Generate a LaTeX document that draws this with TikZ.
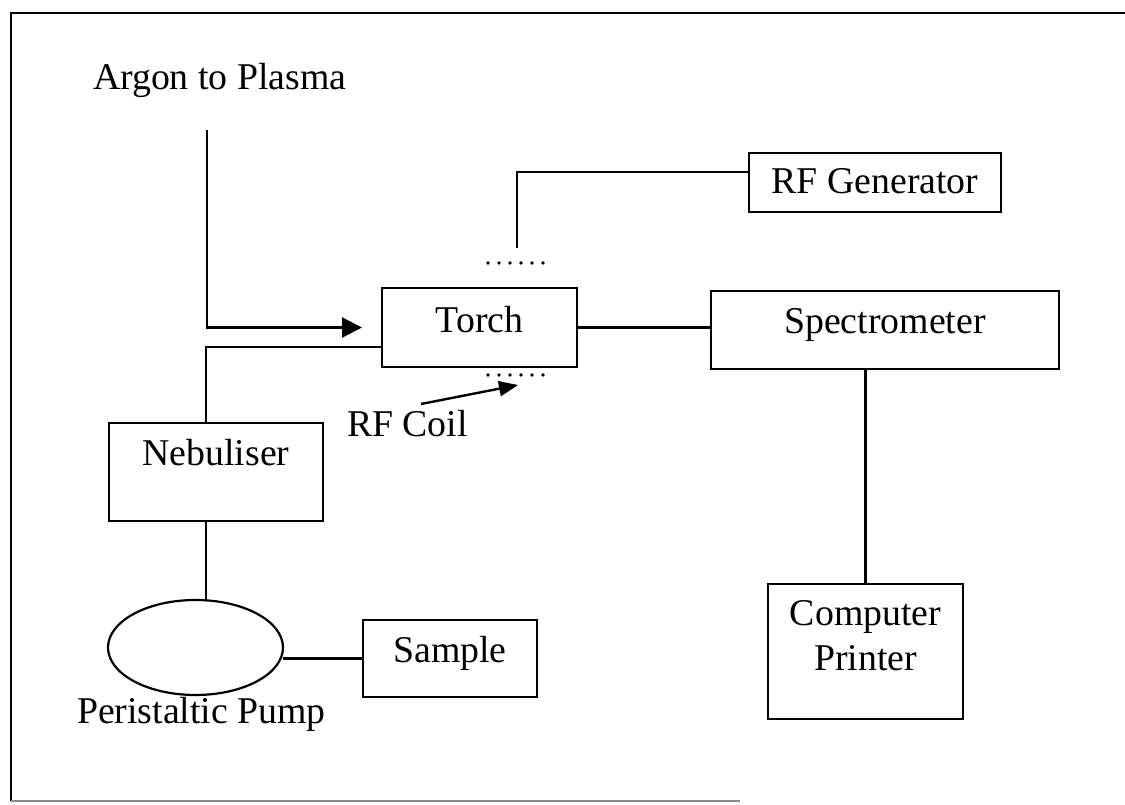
\documentclass[tikz,border=0pt]{standalone}
\usepackage{fontspec}
\setmainfont{Liberation Serif}
\usetikzlibrary{shapes.geometric,arrows.meta,calc}
\begin{document}
\begin{tikzpicture}[x=1pt,y=-1pt,
  line width=2.2pt,
  box/.style={draw,rectangle,inner sep=0pt,outer sep=0pt},
  lbl/.style={inner sep=0pt,outer sep=0pt,anchor=base,font=\fontsize{37.8pt}{44pt}\selectfont},
  lblw/.style={lbl,anchor=base west},
  bigtip/.style={-{Triangle[length=20pt,width=20pt]}},
  smalltip/.style={-{Triangle[length=19pt,width=15pt]}},
  frame/.style={line width=2.4pt}]
\useasboundingbox (0,0) rectangle (1125,805);
% frame
\draw[frame] (1125,13) -- (11,13) -- (11,801);
\draw[frame,black!45] (11,801) -- (740,801);

% boxes
\node[box,minimum width=195pt,minimum height=79pt] (torch) at (479.5,327.5) {};
\node[box,minimum width=252pt,minimum height=59pt] (rfgen) at (875,182.5) {};
\node[box,minimum width=348pt,minimum height=78pt] (spec) at (885,330) {};
\node[box,minimum width=214pt,minimum height=98pt] (neb) at (216,472) {};
\node[box,minimum width=174pt,minimum height=77pt] (sample) at (450,658.5) {};
\node[box,minimum width=195pt,minimum height=135pt] (comp) at (865.5,651.5) {};
\node[draw,ellipse,inner sep=0pt,outer sep=0pt,minimum width=175pt,minimum height=95pt] (pump) at (195.5,647.5) {};

% labels
\node[lblw] (argon) at (93,90) {Argon to Plasma};
\node[lbl] (torchT) at (479.5,332) {Torch};
\node[lbl] (rfgenT) at (875,194) {RF Generator};
\node[lbl] (specT) at (885,333) {Spectrometer};
\node[lbl] (nebT) at (216,465) {Nebuliser};
\node[lbl] (sampleT) at (450,662) {Sample};
\node[lbl] (compT) at (865.5,625) {Computer};
\node[lbl] (printT) at (865.5,670) {Printer};
\node[lblw] (pumpT) at (77,723) {Peristaltic Pump};
\node[lblw] (coilT) at (347,436) {RF Coil};

% coil dots
\foreach \i in {0,...,5} {
  \fill (488+11*\i,263) circle (1.8pt);
  \fill (488+11*\i,375) circle (1.8pt);
}

% connectors
\coordinate (argtop) at (207,130);
\draw[bigtip] (argtop) |- ([xshift=-20pt]torch.west);
\draw ([xshift=-10pt]neb.north) |- ($(torch.west)+(0,19.5)$);
\draw (torch.east) -- (torch.east -| spec.west);
\coordinate (coiltop) at (517,248);
\draw (coiltop) |- ($(rfgen.west)+(0,-10.5)$);
\draw (comp.north) -- (comp.north |- spec.south);
\draw ([xshift=-10pt]neb.south) -- ([xshift=-10pt]neb.south |- pump.north);
\draw (sample.west) -- (sample.west -| pump.east);
\coordinate (coilarrowstart) at (421,404);
\coordinate (coilarrowtip) at (518,385);
\draw[smalltip,line width=2.4pt] (coilarrowstart) -- (coilarrowtip);
\end{tikzpicture}
\end{document}
